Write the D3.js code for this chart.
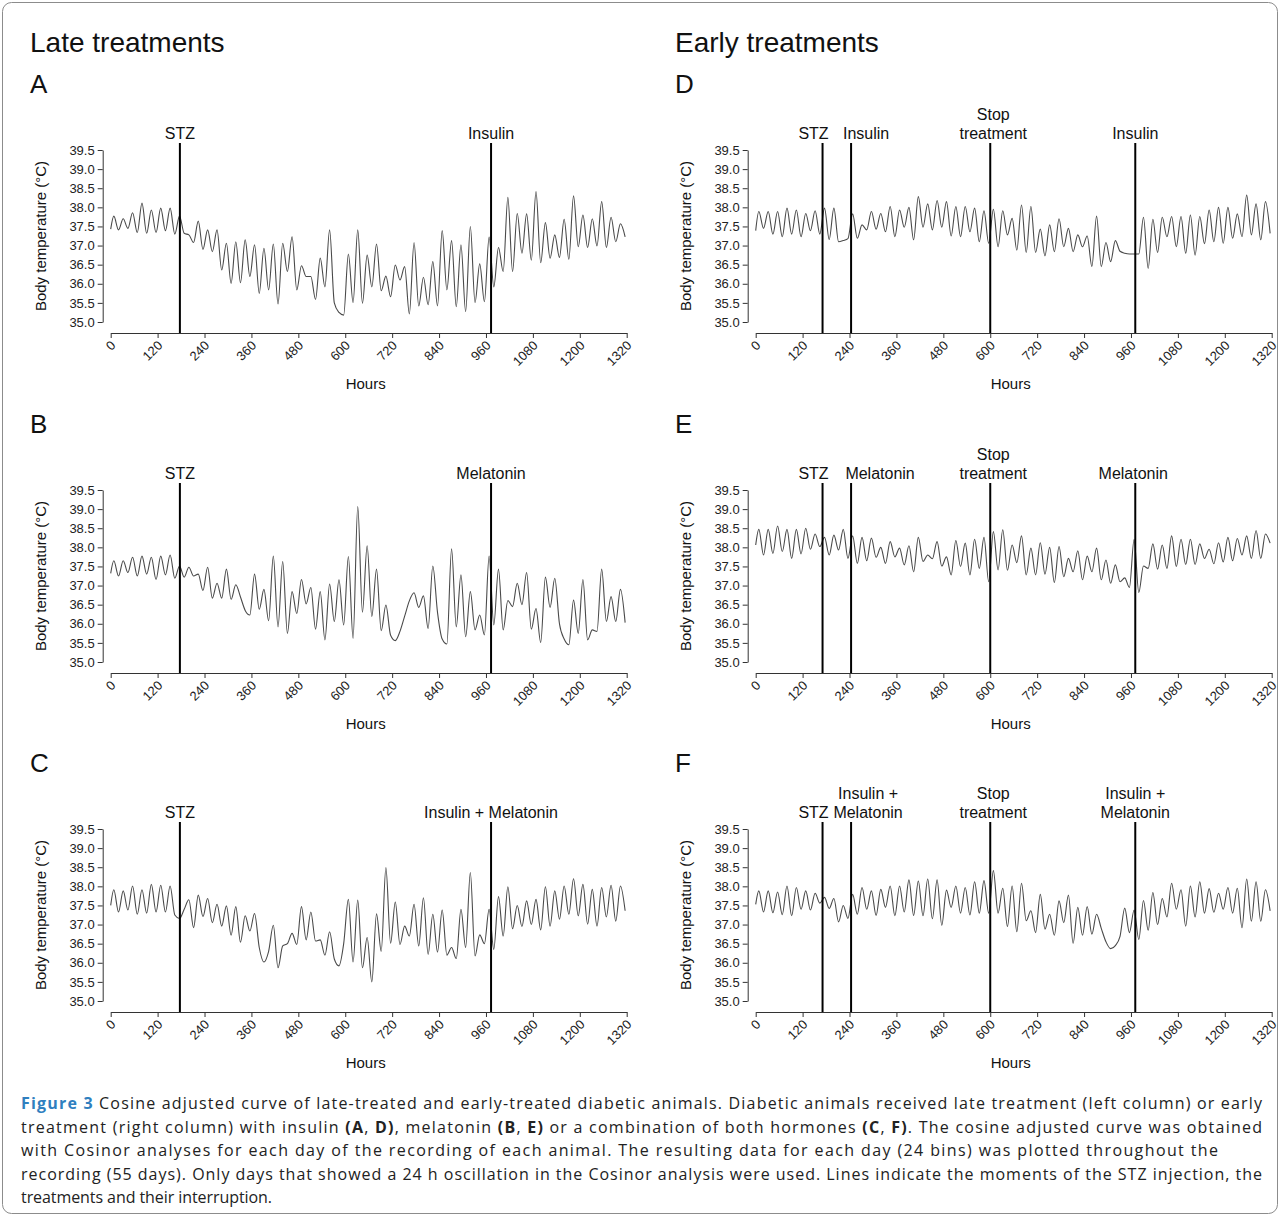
<!DOCTYPE html>
<html>
<head>
<meta charset="utf-8">
<script src="https://cdn.jsdelivr.net/npm/d3@7"></script>
<style>
  body { margin: 0; background: #fff; }
  svg text { font-family: "Liberation Sans", Arial, sans-serif; fill: #111; }
  svg text.caption { font-family: "Open Sans", "DejaVu Sans", sans-serif; }
  .axis path, .axis line { stroke: #333; stroke-width: 1; }
  .axis text { font-size: 13px; fill: #222; }
</style>
</head>
<body>
<svg id="fig" width="1281" height="1219"></svg>
<script>
// ---- data ----
const hourTicks = [0, 120, 240, 360, 480, 600, 720, 840, 960, 1080, 1200, 1320];
const tempTicks = [35.0, 35.5, 36.0, 36.5, 37.0, 37.5, 38.0, 38.5, 39.0, 39.5];

// daily maximum / minimum of the cosine adjusted curve (55 days each)
const startA = 37.43;
const peaksA = [37.77, 37.70, 37.86, 38.11, 37.93, 37.98, 37.98, 37.77, 37.28, 37.64,
  37.41, 37.41, 37.06, 37.10, 37.15, 37.02, 36.93, 37.04, 37.06, 37.23,
  36.47, 36.19, 36.67, 37.41, 35.25, 36.78, 37.41, 36.75, 37.04, 36.20,
  36.49, 36.45, 37.08, 36.17, 36.58, 37.39, 37.13, 37.02, 37.50, 36.52,
  37.22, 36.95, 38.26, 37.84, 37.83, 38.41, 37.60, 37.28, 37.69, 38.30,
  37.80, 37.70, 38.15, 37.74, 37.57];
const troughsA = [37.41, 37.45, 37.34, 37.32, 37.34, 37.39, 37.30, 37.32, 37.08, 36.90,
  36.84, 36.36, 36.01, 36.03, 36.19, 35.75, 35.84, 35.47, 36.32, 35.84,
  36.19, 35.59, 35.92, 35.50, 35.18, 35.51, 35.49, 35.92, 35.82, 35.66,
  36.10, 35.21, 35.42, 35.45, 35.42, 35.84, 35.40, 35.27, 35.51, 35.53,
  35.92, 36.32, 36.32, 36.80, 36.62, 36.55, 36.67, 36.69, 36.64, 36.97,
  36.95, 36.99, 36.95, 37.10, 37.23];

const startB = 37.32;
const peaksB = [37.65, 37.65, 37.74, 37.77, 37.74, 37.77, 37.80, 37.51, 37.48, 37.30,
  37.48, 37.06, 37.43, 37.02, 36.35, 37.30, 36.90, 37.77, 37.63, 36.84,
  37.16, 36.95, 36.84, 37.04, 37.15, 37.76, 39.07, 38.04, 37.43, 36.49,
  35.56, 36.20, 36.81, 36.73, 37.51, 35.60, 37.96, 37.28, 36.84, 36.23,
  37.77, 37.43, 36.61, 37.06, 37.34, 36.40, 37.22, 37.19, 35.60, 36.62,
  37.16, 35.84, 37.43, 36.71, 36.90];
const troughsB = [37.25, 37.34, 37.25, 37.30, 37.16, 37.28, 37.19, 37.22, 37.25, 36.87,
  36.67, 36.67, 36.64, 36.70, 36.23, 36.38, 36.08, 35.92, 35.75, 36.27,
  36.52, 35.86, 35.58, 36.06, 35.97, 35.62, 36.30, 36.19, 35.82, 35.70,
  35.80, 36.60, 36.43, 35.88, 36.30, 35.47, 35.92, 35.66, 35.84, 35.71,
  35.97, 35.84, 36.45, 36.50, 35.86, 35.51, 36.43, 36.00, 35.45, 35.75,
  35.58, 35.80, 36.06, 36.06, 36.03];

const startC = 37.50;
const peaksC = [37.91, 37.88, 38.01, 37.91, 38.05, 38.03, 38.01, 37.16, 37.65, 37.77,
  37.68, 37.53, 37.49, 37.47, 37.23, 37.29, 36.02, 36.98, 36.44, 36.77,
  37.47, 37.33, 36.60, 36.81, 35.92, 37.66, 37.64, 36.66, 37.28, 38.49,
  37.59, 36.96, 37.53, 37.70, 37.27, 37.38, 36.40, 37.40, 38.36, 36.73,
  37.40, 37.73, 37.99, 37.50, 37.62, 37.66, 37.99, 37.88, 38.01, 38.20,
  38.05, 37.92, 37.97, 38.03, 38.01];
const troughsC = [37.33, 37.38, 37.27, 37.30, 37.33, 37.33, 37.25, 37.40, 36.92, 37.21,
  37.05, 36.96, 36.72, 36.54, 36.83, 36.40, 36.30, 35.87, 36.50, 36.48,
  36.60, 36.57, 36.20, 36.10, 36.50, 36.02, 35.87, 35.50, 36.30, 36.51,
  36.48, 36.70, 36.44, 36.22, 36.28, 36.20, 36.11, 36.40, 36.18, 36.50,
  36.35, 36.70, 36.89, 36.95, 37.00, 36.86, 36.96, 37.14, 37.27, 37.23,
  37.01, 36.96, 37.20, 37.09, 37.36];

const startD = 37.39;
const peaksD = [37.89, 37.89, 37.89, 37.98, 37.93, 37.84, 37.91, 37.98, 37.98, 37.13,
  37.83, 37.54, 37.89, 37.84, 38.02, 37.93, 38.00, 38.28, 38.09, 38.18,
  38.15, 38.02, 38.02, 37.98, 37.91, 37.95, 37.91, 37.71, 38.06, 38.02,
  37.43, 37.54, 37.70, 37.45, 37.28, 37.25, 37.77, 37.08, 37.13, 36.80,
  36.78, 37.74, 37.69, 37.74, 37.76, 37.76, 37.80, 37.76, 37.93, 38.00,
  38.00, 37.83, 38.32, 38.09, 38.15];
const troughsD = [37.45, 37.30, 37.23, 37.30, 37.23, 37.39, 37.30, 37.16, 37.10, 37.18,
  37.19, 37.41, 37.43, 37.36, 37.23, 37.48, 37.15, 37.48, 37.41, 37.48,
  37.25, 37.23, 37.36, 37.10, 37.06, 36.97, 37.28, 36.88, 36.82, 36.82,
  36.73, 36.84, 36.97, 36.84, 36.97, 36.45, 36.45, 36.58, 36.85, 36.78,
  36.78, 36.40, 36.82, 37.23, 36.97, 36.80, 36.75, 37.05, 37.10, 37.06,
  37.19, 37.23, 37.28, 37.15, 37.32];

const startE = 38.06;
const peaksE = [38.47, 38.47, 38.56, 38.47, 38.47, 38.50, 38.35, 38.26, 38.32, 38.47,
  38.30, 38.26, 38.24, 38.00, 38.15, 37.98, 38.04, 38.26, 37.80, 38.15,
  37.75, 38.18, 38.11, 38.21, 38.26, 38.41, 38.46, 38.06, 38.30, 37.98,
  38.12, 38.00, 38.02, 37.71, 37.91, 37.77, 37.98, 37.67, 37.54, 37.20,
  38.21, 37.51, 38.09, 38.06, 38.30, 38.21, 38.21, 38.09, 37.95, 38.12,
  38.26, 38.23, 38.30, 38.44, 38.35];
const troughsE = [37.80, 37.84, 37.89, 37.71, 37.83, 37.95, 38.02, 37.80, 37.93, 37.71,
  37.58, 37.65, 37.74, 37.58, 37.75, 37.54, 37.36, 37.63, 37.70, 37.51,
  37.28, 37.50, 37.28, 37.45, 37.10, 37.41, 37.40, 37.60, 37.28, 37.28,
  37.30, 37.08, 37.23, 37.36, 37.15, 37.36, 37.15, 37.06, 37.10, 36.95,
  36.82, 37.45, 37.43, 37.45, 37.50, 37.55, 37.55, 37.71, 37.57, 37.62,
  37.65, 37.80, 37.71, 37.71, 38.11];

const startF = 37.53;
const peaksF = [37.88, 37.88, 37.85, 38.01, 37.97, 37.88, 37.82, 37.71, 37.68, 37.50,
  37.79, 37.97, 37.88, 37.92, 38.01, 38.01, 38.17, 38.14, 38.19, 38.17,
  37.90, 38.01, 37.97, 38.12, 38.15, 38.41, 37.95, 38.01, 38.08, 37.36,
  37.79, 37.27, 37.62, 37.77, 37.45, 37.47, 37.27, 36.55, 36.45, 37.43,
  37.38, 37.63, 37.84, 37.68, 38.08, 37.91, 38.01, 38.12, 37.94, 37.82,
  37.97, 37.95, 38.19, 38.12, 37.91];
const troughsF = [37.33, 37.31, 37.26, 37.23, 37.40, 37.38, 37.56, 37.42, 37.07, 37.16,
  37.27, 37.40, 37.24, 37.45, 37.23, 37.33, 37.24, 37.23, 37.15, 36.98,
  37.45, 37.30, 37.25, 37.30, 37.30, 37.30, 36.95, 36.81, 37.10, 36.79,
  36.88, 36.72, 37.05, 36.51, 36.72, 36.75, 36.90, 36.37, 36.69, 36.79,
  36.61, 36.85, 37.00, 37.20, 37.40, 36.96, 37.20, 37.30, 37.32, 37.40,
  37.30, 36.92, 37.09, 37.09, 37.36];

// treatment moments (hours) and their labels
const eventsA = [{ hour: 177, label: ['STZ'] }, { hour: 973, label: ['Insulin'] }];
const eventsB = [{ hour: 177, label: ['STZ'] }, { hour: 973, label: ['Melatonin'] }];
const eventsC = [{ hour: 177, label: ['STZ'] }, { hour: 973, label: ['Insulin + Melatonin'] }];
const eventsD = [{ hour: 171, label: ['STZ'] }, { hour: 244, label: ['Insulin'] },
  { hour: 600, label: ['Stop', 'treatment'] }, { hour: 971, label: ['Insulin'] }];
const eventsE = [{ hour: 171, label: ['STZ'] }, { hour: 244, label: ['Melatonin'] },
  { hour: 600, label: ['Stop', 'treatment'] }, { hour: 971, label: ['Melatonin'] }];
const eventsF = [{ hour: 171, label: ['STZ'] }, { hour: 244, label: ['Insulin +', 'Melatonin'] },
  { hour: 600, label: ['Stop', 'treatment'] }, { hour: 971, label: ['Insulin +', 'Melatonin'] }];

// ---- layout ----
const svg = d3.select('#fig');
const plotWidth = 516;     // 0..1320 h
const plotHeight = 172;    // 35.0..39.5 °C

// label nudges so neighbouring annotations don't collide
const labelShift = { A: [0, 0], B: [0, 0], C: [0, 0], D: [-9, 15, 3, 0], E: [-9, 29, 3, -2], F: [-9, 17, 3, 0] };

const panels = [
  { id: 'A', start: startA, peaks: peaksA, troughs: troughsA, events: eventsA, left: 110.7, base: 322 },
  { id: 'B', start: startB, peaks: peaksB, troughs: troughsB, events: eventsB, left: 110.7, base: 662 },
  { id: 'C', start: startC, peaks: peaksC, troughs: troughsC, events: eventsC, left: 110.7, base: 1001 },
  { id: 'D', start: startD, peaks: peaksD, troughs: troughsD, events: eventsD, left: 755.7, base: 322 },
  { id: 'E', start: startE, peaks: peaksE, troughs: troughsE, events: eventsE, left: 755.7, base: 662 },
  { id: 'F', start: startF, peaks: peaksF, troughs: troughsF, events: eventsF, left: 755.7, base: 1001 }
];

// outer frame
svg.append('rect')
  .attr('x', 2.5).attr('y', 2.5)
  .attr('width', 1275).attr('height', 1211)
  .attr('rx', 9)
  .attr('fill', 'none')
  .attr('stroke', '#8c8c8c')
  .attr('stroke-width', 1);

svg.append('text').attr('x', 30).attr('y', 52).attr('font-size', 28).text('Late treatments');
svg.append('text').attr('x', 675).attr('y', 52).attr('font-size', 28).text('Early treatments');

panels.forEach(function(p) {
  const x = d3.scaleLinear().domain([0, 1320]).range([p.left, p.left + plotWidth]);
  const y = d3.scaleLinear().domain([35, 39.5]).range([p.base, p.base - plotHeight]);
  const g = svg.append('g');

  // panel letter
  g.append('text')
    .attr('x', p.left - 80.7)
    .attr('y', p.base - 229)
    .attr('font-size', 26)
    .text(p.id);

  // x axis, sits a little below the 35.0 tick
  const xAxis = g.append('g')
    .attr('class', 'axis')
    .attr('transform', `translate(0, ${p.base + 11})`)
    .call(d3.axisBottom(x).tickValues(hourTicks).tickFormat(d3.format('d')).tickSize(5).tickSizeOuter(0));
  // rotated tick labels ending just under each tick
  xAxis.selectAll('text')
    .attr('x', 0)
    .attr('y', 0)
    .attr('dy', '0.35em')
    .attr('text-anchor', 'end')
    .attr('transform', 'translate(2, 10) rotate(-45)');

  g.append('text')
    .attr('x', p.left + plotWidth / 2 - 3)
    .attr('y', p.base + 67)
    .attr('text-anchor', 'middle')
    .attr('font-size', 15)
    .text('Hours');

  // y axis
  g.append('g')
    .attr('class', 'axis')
    .attr('transform', `translate(${p.left - 8}, 0)`)
    .call(d3.axisLeft(y).tickValues(tempTicks).tickFormat(d3.format('.1f')).tickSize(5).tickSizeOuter(0));

  g.append('text')
    .attr('transform', `translate(${p.left - 65}, ${p.base - 86}) rotate(-90)`)
    .attr('text-anchor', 'middle')
    .attr('font-size', 15)
    .text('Body temperature (\u00B0C)');

  // cosine adjusted curve: one maximum and one minimum per day
  const knots = [[0, p.start]];
  p.peaks.forEach(function(v, d) {
    knots.push([d * 24 + 8, v]);
    knots.push([d * 24 + 20, p.troughs[d]]);
  });
  const line = d3.line()
    .x(function(d) { return x(d[0]); })
    .y(function(d) { return y(d[1]); })
    .curve(d3.curveMonotoneX);
  g.append('path')
    .datum(knots)
    .attr('fill', 'none')
    .attr('stroke', '#4a4a4a')
    .attr('stroke-width', 1.1)
    .attr('d', line);

  // treatment lines and labels
  p.events.forEach(function(ev, i) {
    g.append('line')
      .attr('x1', x(ev.hour)).attr('x2', x(ev.hour))
      .attr('y1', p.base - 179).attr('y2', p.base + 11)
      .attr('stroke', '#000')
      .attr('stroke-width', 2);
    const n = ev.label.length;
    ev.label.forEach(function(txt, k) {
      g.append('text')
        .attr('x', x(ev.hour) + labelShift[p.id][i])
        .attr('y', p.base - 183 - (n - 1 - k) * 19)
        .attr('text-anchor', 'middle')
        .attr('font-size', 16)
        .text(txt);
    });
  });
});

// caption, lines justified to the widths seen in the figure
const captionLines = [
  [['b', 'Figure 3', '#2f7fbf'], ['n', ' Cosine adjusted curve of late-treated and early-treated diabetic animals. Diabetic animals received late treatment (left column) or early']],
  [['n', 'treatment (right column) with insulin '], ['b', '(A'], ['n', ', '], ['b', 'D)'], ['n', ', melatonin '], ['b', '(B'], ['n', ', '], ['b', 'E)'], ['n', ' or a combination of both hormones '], ['b', '(C'], ['n', ', '], ['b', 'F)'], ['n', '. The cosine adjusted curve was obtained']],
  [['n', 'with Cosinor analyses for each day of the recording of each animal. The resulting data for each day (24 bins) was plotted throughout the']],
  [['n', 'recording (55 days). Only days that showed a 24 h oscillation in the Cosinor analysis were used. Lines indicate the moments of the STZ injection, the']],
  [['n', 'treatments and their interruption.']]
];
const captionWidths = [1241, 1241, 1197, 1241, 251];
captionLines.forEach(function(parts, i) {
  const t = svg.append('text')
    .attr('class', 'caption')
    .attr('x', 21)
    .attr('y', 1109 + i * 23.6)
    .attr('font-size', 16)
    .attr('textLength', captionWidths[i])
    .attr('lengthAdjust', 'spacing');
  parts.forEach(function(part) {
    t.append('tspan')
      .attr('font-weight', part[0] === 'b' ? 'bold' : 'normal')
      .attr('fill', part[2] || '#222')
      .text(part[1]);
  });
});
</script>
</body>
</html>
